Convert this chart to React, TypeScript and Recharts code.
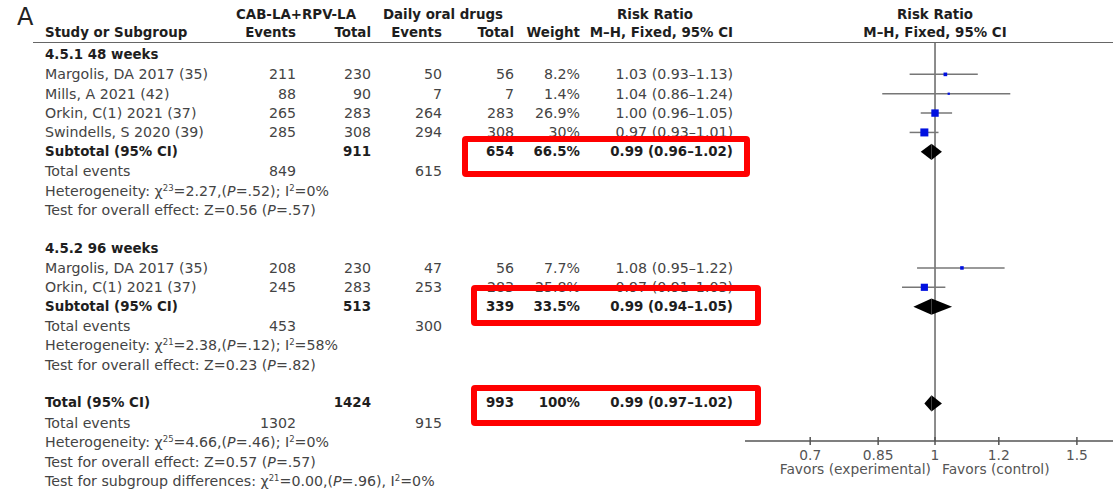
import React from "react";
import {
  ComposedChart,
  Scatter,
  XAxis,
  YAxis,
  ReferenceLine,
  ReferenceArea,
} from "recharts";

// single studies
const studyLabels = [
  "Margolis, DA 2017 (35)",
  "Mills, A 2021 (42)",
  "Orkin, C(1) 2021 (37)",
  "Swindells, S 2020 (39)",
  "Margolis, DA 2017 (35)",
  "Orkin, C(1) 2021 (37)",
];
const studyRows = [1, 2, 3, 4, 11, 12];
const expEvents = [211, 88, 265, 285, 208, 245];
const expTotal = [230, 90, 283, 308, 230, 283];
const ctlEvents = [50, 7, 264, 294, 47, 253];
const ctlTotal = [56, 7, 283, 308, 56, 283];
const weights = [8.2, 1.4, 26.9, 30, 7.7, 25.8];
const weightLabels = ["8.2%", "1.4%", "26.9%", "30%", "7.7%", "25.8%"];
const rr = [1.03, 1.04, 1.0, 0.97, 1.08, 0.97];
const rrLow = [0.93, 0.86, 0.96, 0.93, 0.95, 0.91];
const rrHigh = [1.13, 1.24, 1.05, 1.01, 1.22, 1.03];

// pooled rows
const pooledLabels = ["Subtotal (95% CI)", "Subtotal (95% CI)", "Total (95% CI)"];
const pooledRows = [5, 13, 18];
const pooledExpTotal = [911, 513, 1424];
const pooledCtlTotal = [654, 339, 993];
const pooledWeight = ["66.5%", "33.5%", "100%"];
const pooledRR = [0.99, 0.99, 0.99];
const pooledLow = [0.96, 0.94, 0.97];
const pooledHigh = [1.02, 1.05, 1.02];

const groupLabels = ["4.5.1 48 weeks", "4.5.2 96 weeks"];
const groupRows = [0, 10];

const eventRows = [6, 14, 19];
const eventExp = [849, 453, 1302];
const eventCtl = [615, 300, 915];

const hetRows = [7, 15, 20];
const hetDf = ["3", "1", "5"];
const hetChi = ["2.27", "2.38", "4.66"];
const hetP = [".52", ".12", ".46"];
const hetI2 = ["0%", "58%", "0%"];

const effRows = [8, 16, 21];
const effZ = ["0.56", "0.23", "0.57"];
const effP = [".57", ".82", ".57"];

const xTicks = [0.7, 0.85, 1, 1.2, 1.5];

const ROW0 = 55;
const ROW_H = 19.36;
const FONT = "'DejaVu Sans', sans-serif";

const col = { name: 45, expEv: 296, expTot: 371, ctlEv: 442, ctlTot: 514, weight: 580, rr: 733 };

const fmt = (v: number) => v.toFixed(2);

function T({ cy, x, right, bold, center, children }: any) {
  const style: React.CSSProperties = {
    position: "absolute",
    top: cy - 10,
    height: 20,
    lineHeight: "20px",
    whiteSpace: "nowrap",
    fontWeight: bold ? 700 : 400,
    fontSize: bold ? 13.4 : 14.2,
    color: bold ? "#1e1e1e" : "#444",
  };
  if (right) {
    style.left = x - 300;
    style.width = 300;
    style.textAlign = "right";
  } else if (center) {
    style.left = x - 150;
    style.width = 300;
    style.textAlign = "center";
  } else {
    style.left = x;
  }
  return <div style={style}>{children}</div>;
}

const rowY = (r: number) => ROW0 + r * ROW_H;

const Sup = ({ children }: any) => (
  <span style={{ fontSize: 8.5, position: "relative", top: -5 }}>{children}</span>
);

const AxisTick = (props: any) => {
  const { x, y, payload } = props;
  return (
    <g>
      <line x1={x} x2={x} y1={y - 4} y2={y + 4} stroke="#555" strokeWidth={1.5} />
      <text x={x} y={y + 19} textAnchor="middle" fill="#555" fontSize={13.8} fontFamily={FONT}>
        {payload.value}
      </text>
    </g>
  );
};

// no-effect line, drawn as a zero-width area so it sits under the diamonds
const NullLine = (p: any) => (
  <line x1={p.x} x2={p.x} y1={p.y} y2={p.y + p.height} stroke="#666" strokeWidth={1.5} />
);
const LeftHalf = (p: any) => (
  <polygon
    points={`${p.x},${p.y + p.height / 2} ${p.x + p.width},${p.y} ${p.x + p.width},${p.y + p.height}`}
    fill="#000"
  />
);
const RightHalf = (p: any) => (
  <polygon
    points={`${p.x},${p.y} ${p.x + p.width},${p.y + p.height / 2} ${p.x},${p.y + p.height}`}
    fill="#000"
  />
);

export default function App() {
  const points = rr.map((v, i) => ({ x: v, y: studyRows[i], w: weights[i] }));

  return (
    <div
      style={{
        position: "absolute",
        left: 0,
        top: 0,
        width: 1113,
        height: 494,
        background: "#fff",
        fontFamily: FONT,
        overflow: "hidden",
      }}
    >
      <div style={{ position: "absolute", left: 17, top: 2, fontSize: 24, color: "#222", lineHeight: "30px" }}>A</div>

      {/* headers */}
      <T cy={15} x={296} center bold>CAB-LA+RPV-LA</T>
      <T cy={15} x={443} center bold>Daily oral drugs</T>
      <T cy={15} x={655} center bold>Risk Ratio</T>
      <T cy={15} x={935} center bold>Risk Ratio</T>
      <T cy={33} x={col.name} bold>Study or Subgroup</T>
      <T cy={33} x={col.expEv} right bold>Events</T>
      <T cy={33} x={col.expTot} right bold>Total</T>
      <T cy={33} x={col.ctlEv} right bold>Events</T>
      <T cy={33} x={col.ctlTot} right bold>Total</T>
      <T cy={33} x={col.weight} right bold>Weight</T>
      <T cy={33} x={col.rr} right bold>M–H, Fixed, 95% CI</T>
      <T cy={33} x={935} center bold>M–H, Fixed, 95% CI</T>
      <div style={{ position: "absolute", left: 33, top: 42, width: 1080, borderTop: "1.5px solid #666" }} />

      {groupLabels.map((g, i) => (
        <T key={g} cy={rowY(groupRows[i])} x={col.name} bold>{g}</T>
      ))}

      {studyLabels.map((s, i) => {
        const cy = rowY(studyRows[i]);
        return (
          <React.Fragment key={i}>
            <T cy={cy} x={col.name}>{s}</T>
            <T cy={cy} x={col.expEv} right>{expEvents[i]}</T>
            <T cy={cy} x={col.expTot} right>{expTotal[i]}</T>
            <T cy={cy} x={col.ctlEv} right>{ctlEvents[i]}</T>
            <T cy={cy} x={col.ctlTot} right>{ctlTotal[i]}</T>
            <T cy={cy} x={col.weight} right>{weightLabels[i]}</T>
            <T cy={cy} x={col.rr} right>{`${fmt(rr[i])} (${fmt(rrLow[i])}–${fmt(rrHigh[i])})`}</T>
          </React.Fragment>
        );
      })}

      {pooledLabels.map((s, i) => {
        const cy = rowY(pooledRows[i]);
        return (
          <React.Fragment key={i}>
            <T cy={cy} x={col.name} bold>{s}</T>
            <T cy={cy} x={col.expTot} right bold>{pooledExpTotal[i]}</T>
            <T cy={cy} x={col.ctlTot} right bold>{pooledCtlTotal[i]}</T>
            <T cy={cy} x={col.weight} right bold>{pooledWeight[i]}</T>
            <T cy={cy} x={col.rr} right bold>{`${fmt(pooledRR[i])} (${fmt(pooledLow[i])}–${fmt(pooledHigh[i])})`}</T>
          </React.Fragment>
        );
      })}

      {eventRows.map((r, i) => (
        <React.Fragment key={r}>
          <T cy={rowY(r)} x={col.name}>Total events</T>
          <T cy={rowY(r)} x={col.expEv} right>{eventExp[i]}</T>
          <T cy={rowY(r)} x={col.ctlEv} right>{eventCtl[i]}</T>
        </React.Fragment>
      ))}

      {hetRows.map((r, i) => (
        <T key={r} cy={rowY(r)} x={col.name}>
          Heterogeneity: χ<Sup>2{hetDf[i]}</Sup>={hetChi[i]},(<i>P</i>={hetP[i]}); I<Sup>2</Sup>={hetI2[i]}
        </T>
      ))}

      {effRows.map((r, i) => (
        <T key={r} cy={rowY(r)} x={col.name}>
          Test for overall effect: Z={effZ[i]} (<i>P</i>={effP[i]})
        </T>
      ))}

      <T cy={rowY(22)} x={col.name}>
        Test for subgroup differences: χ<Sup>21</Sup>=0.00,(<i>P</i>=.96), I<Sup>2</Sup>=0%
      </T>

      <T cy={469} x={931} right>
        <span style={{ color: "#555", fontSize: 13.8 }}>Favors (experimental)</span>
      </T>
      <T cy={469} x={942}>
        <span style={{ color: "#555", fontSize: 13.8 }}>Favors (control)</span>
      </T>

      <div style={{ position: "absolute", left: 745, top: 0 }}>
        <ComposedChart width={368} height={494} margin={{ top: 42.5, right: 0, bottom: 0, left: 0 }}>
          <XAxis
            dataKey="x"
            type="number"
            scale="log"
            domain={[0.581, 1.663]}
            allowDataOverflow
            ticks={xTicks}
            height={53}
            tickSize={0}
            tickMargin={0}
            tickLine={false}
            axisLine={{ stroke: "#555", strokeWidth: 1.5 }}
            tick={<AxisTick />}
            interval={0}
          />
          <YAxis dataKey="y" type="number" domain={[-0.646, 19.94]} reversed hide allowDataOverflow />
          <ReferenceArea x1={1} x2={1} shape={NullLine} />
          {rr.map((_, i) => (
            <ReferenceLine
              key={`ci-${i}`}
              segment={[
                { x: rrLow[i], y: studyRows[i] },
                { x: rrHigh[i], y: studyRows[i] },
              ]}
              stroke="#777"
              strokeWidth={1.5}
            />
          ))}
          {pooledRR.map((v, i) => (
            <ReferenceArea
              key={`dl-${i}`}
              x1={pooledLow[i]}
              x2={v}
              y1={pooledRows[i] - 0.42}
              y2={pooledRows[i] + 0.42}
              shape={LeftHalf}
            />
          ))}
          {pooledRR.map((v, i) => (
            <ReferenceArea
              key={`dr-${i}`}
              x1={v}
              x2={pooledHigh[i]}
              y1={pooledRows[i] - 0.42}
              y2={pooledRows[i] + 0.42}
              shape={RightHalf}
            />
          ))}
          <Scatter
            data={points}
            isAnimationActive={false}
            shape={(p: any) => {
              const s = 2 + 0.2 * p.payload.w;
              return <rect x={p.cx - s / 2} y={p.cy - s / 2} width={s} height={s} fill="#0010e0" />;
            }}
          />
        </ComposedChart>
      </div>

      {/* highlight boxes */}
      {[
        { l: 462, t: 136, w: 288, h: 41 },
        { l: 471, t: 285, w: 290, h: 41 },
        { l: 471, t: 385, w: 290, h: 41 },
      ].map((b, i) => (
        <div
          key={i}
          style={{
            position: "absolute",
            left: b.l,
            top: b.t,
            width: b.w,
            height: b.h,
            border: "6px solid #ff0000",
            borderRadius: 4,
            boxSizing: "border-box",
          }}
        />
      ))}
    </div>
  );
}
